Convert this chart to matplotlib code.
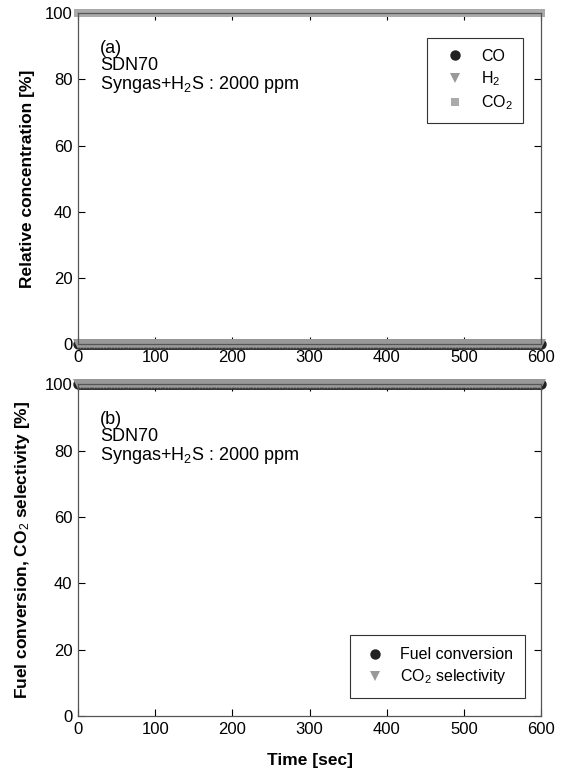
import numpy as np
import matplotlib.pyplot as plt

plt.rcParams['font.family'] = ['Liberation Sans', 'DejaVu Sans']
plt.rcParams['mathtext.fontset'] = 'custom'
plt.rcParams['mathtext.rm'] = 'Liberation Sans'
plt.rcParams['mathtext.it'] = 'Liberation Sans:italic'
plt.rcParams['mathtext.bf'] = 'Liberation Sans:bold'

time = np.arange(0, 601, 2)
co = [0.0] * len(time)
h2 = [0.0] * len(time)
co2 = [100.0] * len(time)
fuel_conv = [100.0] * len(time)
co2_sel = [100.0] * len(time)

xticks = [0, 100, 200, 300, 400, 500, 600]
yticks = [0, 20, 40, 60, 80, 100]

fig = plt.figure(figsize=(5.62, 7.77), dpi=100)
ax1 = fig.add_axes([0.139, 0.557, 0.824, 0.426])
ax2 = fig.add_axes([0.139, 0.0785, 0.824, 0.427])

black = '#222222'
gray = '#999999'
lgray = '#aaaaaa'


def style(ax):
    ax.set_xlim(0, 600)
    ax.set_ylim(0, 100)
    ax.set_xticks(xticks)
    ax.set_yticks(yticks)
    ax.tick_params(direction='in', top=True, right=True, length=5, width=0.8,
                   labelsize=12, colors='black', pad=4)
    for s in ax.spines.values():
        s.set_color('#555555')
        s.set_linewidth(0.9)


# (a)
ax1.plot(time, co, 'o', color=black, ms=7.5, mew=0, clip_on=False, label='CO')
ax1.plot(time, h2, 'v', color=gray, ms=7.5, mew=0, clip_on=False, label='H$_2$')
ax1.plot(time, co2, 's', color=lgray, ms=5.5, mew=0, clip_on=False, label='CO$_2$')
style(ax1)
ax1.set_ylabel('Relative concentration [%]', fontsize=12.5, fontweight='bold', labelpad=7)
ax1.text(0.047, 0.92, '(a)\nSDN70\nSyngas+H$_2$S : 2000 ppm', transform=ax1.transAxes,
         va='top', ha='left', fontsize=13, linespacing=1.0)
leg1 = ax1.legend(loc='upper right', bbox_to_anchor=(0.961, 0.924), borderaxespad=0,
                  fontsize=11.5, fancybox=False, edgecolor='#333333', framealpha=1,
                  handletextpad=0.6, borderpad=0.65, labelspacing=0.35, handlelength=2.1)
leg1.get_frame().set_linewidth(0.8)

# (b)
ax2.plot(time, fuel_conv, 'o', color=black, ms=7.5, mew=0, clip_on=False, label='Fuel conversion')
ax2.plot(time, co2_sel, 'v', color=gray, ms=7.5, mew=0, clip_on=False, label='CO$_2$ selectivity')
style(ax2)
ax2.set_xlabel('Time [sec]', fontsize=12.5, fontweight='bold', labelpad=12)
ax2.set_ylabel('Fuel conversion, CO$_2$ selectivity [%]', fontsize=12.5, fontweight='bold', labelpad=9)
ax2.text(0.047, 0.92, '(b)\nSDN70\nSyngas+H$_2$S : 2000 ppm', transform=ax2.transAxes,
         va='top', ha='left', fontsize=13, linespacing=1.0)
leg2 = ax2.legend(loc='lower right', bbox_to_anchor=(0.9654, 0.054), borderaxespad=0,
                  fontsize=11.5, fancybox=False, edgecolor='#333333', framealpha=1,
                  handletextpad=0.75, borderpad=0.75, labelspacing=0.3, handlelength=1.63)
leg2.get_frame().set_linewidth(0.8)

fig.savefig('out.png', dpi=100)
